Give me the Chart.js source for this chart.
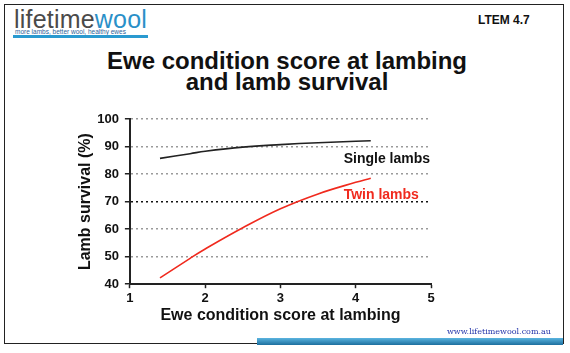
<!DOCTYPE html>
<html lang="en">
<head>
  <meta charset="UTF-8">
  <title>Ewe condition score at lambing and lamb survival</title>
  <script src="https://cdn.jsdelivr.net/npm/chart.js"></script>
  <style>
    body { margin: 0; background: #fff; font-family: Arial, "Liberation Sans", sans-serif; }
    #slide { position: relative; width: 570px; height: 353px; overflow: hidden; }
    #frame { position: absolute; left: 4px; top: 4px; width: 558px; height: 338px; border: 1px solid #222; }
    #logo { position: absolute; left: 14px; top: 5px; font-size: 25px; color: #4a4a4a; letter-spacing: 0.2px; }
    #logo span { color: #2a90c8; }
    #tagline { position: absolute; left: 15px; top: 28px; font-size: 6.5px; color: #2c5f9a; }
    #logobar { position: absolute; left: 13px; top: 35px; width: 135px; height: 3px; background: #2a9ad0; }
    #code { position: absolute; left: 478px; top: 13px; font-size: 12px; font-weight: bold; color: #111; }
    #title { position: absolute; left: 0; width: 574px; top: 50px; text-align: center; font-size: 24px; font-weight: bold; line-height: 21px; color: #111; }
    #url { position: absolute; left: 447px; top: 327px; font-size: 8px; color: #2233aa; font-family: "DejaVu Serif", serif; }
    #footbar { position: absolute; left: 257px; top: 338px; width: 306px; height: 7px; background: linear-gradient(#5ab4e0, #1d6f9e); }
    #chart { position: absolute; left: 0; top: 0; }
  </style>
</head>
<body>
  <div id="slide">
    <div id="frame"></div>
    <div id="logo">lifetime<span>wool</span></div>
    <div id="tagline">more lambs, better wool, healthy ewes</div>
    <div id="logobar"></div>
    <div id="code">LTEM 4.7</div>
    <div id="title">Ewe condition score at lambing<br>and lamb survival</div>
    <canvas id="chart" width="570" height="353"></canvas>
    <div id="url">www.lifetimewool.com.au</div>
    <div id="footbar"></div>
  </div>

  <script>
    // values
    const conditionScore = [1.4, 1.8, 2.0, 2.5, 3.0, 3.5, 4.0, 4.2];
    const singleSurvival = [85.7, 87.4, 88.3, 89.8, 90.7, 91.4, 91.9, 92.1];
    const twinSurvival   = [42.3, 49.4, 52.8, 60.5, 67.4, 72.8, 77.0, 78.5];
    const xTicks = [1, 2, 3, 4, 5];
    const yTicks = [40, 50, 60, 70, 80, 90, 100];

    const toPoints = ys => conditionScore.map((x, i) => ({ x: x, y: ys[i] }));

    // text labels next to the curves, placed in data units
    const lineLabels = {
      id: "lineLabels",
      afterDatasetsDraw(chart) {
        const { ctx, scales: { x, y } } = chart;
        ctx.save();
        ctx.font = "bold 14px Arial, 'Liberation Sans', sans-serif";
        ctx.textBaseline = "middle";
        ctx.fillStyle = "#111";
        ctx.fillText("Single lambs", x.getPixelForValue(3.84), y.getPixelForValue(85.6));
        ctx.fillStyle = "#f02a1e";
        ctx.fillText("Twin lambs", x.getPixelForValue(3.84), y.getPixelForValue(72.3));
        ctx.restore();
      }
    };

    const fam = "Arial, 'Liberation Sans', sans-serif";
    const tickFont = { family: fam, size: 13, weight: "bold" };

    new Chart(document.getElementById("chart"), {
      type: "scatter",
      data: {
        datasets: [
          { label: "Single lambs", data: toPoints(singleSurvival), showLine: true, borderColor: "#222", borderWidth: 1.6, pointRadius: 0, tension: 0.4 },
          { label: "Twin lambs", data: toPoints(twinSurvival), showLine: true, borderColor: "#f02a1e", borderWidth: 1.6, pointRadius: 0, tension: 0.4 }
        ]
      },
      options: {
        responsive: false,
        animation: false,
        layout: { padding: { left: 76, right: 139, top: 119, bottom: 28 } },
        plugins: { legend: { display: false }, tooltip: { enabled: false } },
        scales: {
          x: {
            type: "linear",
            min: 1, max: 5,
            afterBuildTicks: s => { s.ticks = xTicks.map(v => ({ value: v })); },
            ticks: { color: "#111", font: tickFont, padding: 2 },
            grid: { drawOnChartArea: false, tickColor: "#222", tickLength: 4, tickWidth: 1.5 },
            border: { color: "#222", width: 2 },
            title: { display: true, text: "Ewe condition score at lambing", color: "#111", font: { family: fam, size: 16, weight: "bold" }, padding: { top: -2, bottom: 0 } }
          },
          y: {
            min: 40, max: 100,
            afterBuildTicks: s => { s.ticks = yTicks.map(v => ({ value: v })); },
            ticks: { color: "#111", font: tickFont, padding: 6 },
            grid: {
              color: c => c.tick.value === 40 ? "rgba(0,0,0,0)" : (c.tick.value === 70 ? "#111" : "#9a9a9a"),
              lineWidth: 1.5,
              tickColor: "#222", tickLength: 5, tickWidth: 1.5
            },
            border: { color: "#222", width: 2, dash: [2, 3] },
            title: { display: true, text: "Lamb survival (%)", color: "#111", font: { family: fam, size: 16, weight: "bold" }, padding: { top: 0, bottom: -4 } }
          }
        }
      },
      plugins: [lineLabels]
    });
  </script>
</body>
</html>
